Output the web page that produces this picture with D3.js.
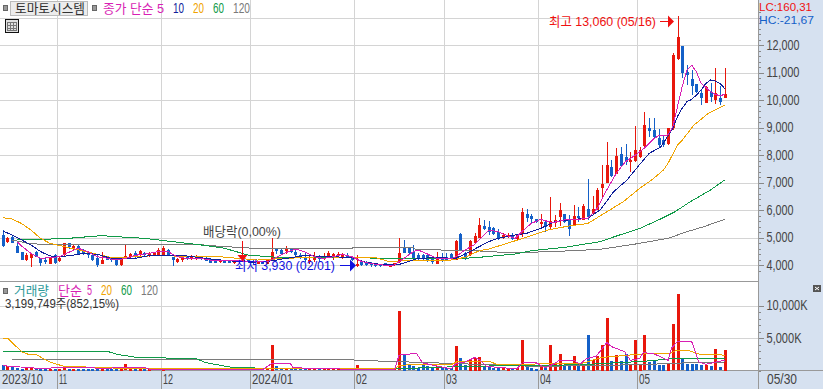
<!DOCTYPE html>
<html><head><meta charset="utf-8">
<script src="https://cdn.jsdelivr.net/npm/d3@7/dist/d3.min.js"></script>
<style>
html,body{margin:0;padding:0;background:#fff;overflow:hidden}
svg{display:block}
text{font-family:"Liberation Sans","Noto Sans CJK KR",sans-serif;font-size:13px;font-weight:400}
.crisp line,.crisp path,.crisp rect{shape-rendering:crispEdges}
.ax text{font-size:14px;fill:#444}
</style></head><body><svg id="c" width="823" height="389"></svg>
<script>
// Price series, one value per trading day (won)
const open=[5090,4810,5030,4700,4460,4180,4240,4490,4240,4180,
4050,4360,4120,4360,4790,4580,4700,4510,4420,4360,
4270,4050,4300,4240,4180,4000,4290,4270,4420,4360,
4420,4340,4360,4360,4390,4550,4300,4100,4170,4300,
4210,4220,4300,4270,4200,4200,4100,4180,4180,4060,
4180,4120,4200,4160,4060,4120,4030,4150,4570,4550,
4490,4570,4490,4360,4300,4100,4180,4300,4210,4300,
4270,4300,4240,4360,4300,3940,4100,4120,4060,4020,
4020,4060,3940,3980,4100,4630,4610,4490,4360,4360,
4360,4240,4060,4300,4300,4390,4180,5130,4450,4360,
4790,4970,5430,5390,5330,5210,5010,5000,5090,4930,
5150,5840,5780,5660,5490,5560,5370,5520,5730,5840,
5660,5450,5790,5640,6040,5880,6000,6800,6970,7550,
7310,8040,7940,7730,7790,7920,8340,8970,8910,8610,
8550,8400,8970,11480,11960,11030,10760,10580,10240,9920,
10300,9980,10060,10090];
const high=[5270,5030,5090,4790,4480,4420,4390,4510,4240,4270,
4270,4410,4300,4810,4810,4750,4720,4580,4510,4380,
4390,4460,4320,4300,4200,4270,4750,4440,4510,4530,
4490,4490,4490,4630,4700,4570,4300,4240,4360,4320,
4360,4360,4330,4290,4220,4220,4200,4200,4200,4200,
4200,4220,4230,4200,4150,4150,4200,4990,4630,4570,
4690,4590,4550,4420,4420,4360,4460,4360,4420,4510,
4420,4460,4450,4420,4320,4360,4150,4150,4120,4040,
4040,4080,4020,4080,4990,4910,4670,4730,4420,4390,
4420,4300,4490,4450,4420,4420,4910,5150,4470,4910,
5150,5700,5640,5600,5400,5310,5150,5180,5180,5100,
6060,6020,5850,5680,5840,5640,6460,5820,6240,5840,
5820,6180,6120,6220,7120,6510,6790,7640,8470,7820,
8240,8290,8390,8120,9060,8300,9550,9330,9360,8950,
8730,8990,11700,13060,11960,11270,11090,10580,10360,10510,
10630,11150,10510,11150];
const low=[4670,4790,4790,4420,4180,4150,3940,4290,3980,4020,
4050,4050,4100,4300,4600,4550,4380,4360,4240,4160,
3940,4050,4170,4100,3970,3960,4270,4220,4240,4340,
4300,4300,4340,4340,4360,4340,3980,4060,4120,4180,
4180,4190,4200,4140,4060,4080,4080,4060,4060,4040,
4060,4100,4090,4050,4040,4040,4020,4140,4390,4390,
4390,4430,4240,4220,4120,4020,4100,4120,4180,4270,
4180,4240,4210,4240,4160,3930,3980,3980,3940,3940,
3940,3960,3930,3960,4090,4420,4360,4220,4180,4200,
4100,4040,4060,4120,4150,4180,4180,4520,4200,4340,
4750,4970,5290,5090,5090,4910,4930,4970,4910,4900,
5010,5580,5520,5530,5390,5210,5270,5370,5420,5520,
5060,5450,5580,5640,5640,5820,6000,6490,6970,7210,
7310,7580,7640,7390,7760,7880,8300,8670,8610,8240,
8300,8360,8900,11450,10790,10550,10180,10270,9820,9900,
9940,9860,9820,10060];
const close=[4700,4970,4810,4460,4180,4360,4390,4300,4060,4100,
4270,4060,4240,4790,4630,4700,4400,4400,4360,4180,
4020,4180,4180,4150,3980,4240,4340,4390,4300,4510,
4340,4390,4420,4550,4630,4360,4200,4220,4240,4220,
4300,4300,4220,4160,4080,4100,4180,4080,4080,4180,
4100,4200,4120,4080,4120,4060,4180,4490,4510,4420,
4610,4450,4390,4270,4180,4180,4300,4220,4300,4420,
4390,4390,4360,4270,4180,4020,4000,4020,3980,3950,
3950,3980,4000,4060,4420,4460,4420,4240,4240,4240,
4180,4100,4300,4180,4180,4200,4870,4550,4270,4870,
5050,5450,5310,5210,5110,4970,5090,5090,4960,5080,
5940,5710,5670,5550,5560,5370,5590,5640,6000,5540,
5310,5780,5730,6150,5760,6020,6730,6950,7640,7240,
7960,7600,7770,7810,8180,8180,9090,8850,8640,8360,
8360,8970,11640,12280,10990,10910,10520,10300,10040,10490,
10120,10240,9920,10230];
const volume=[790,680,530,370,300,320,330,340,260,260,
260,260,300,500,300,300,260,260,250,250,
250,420,250,250,240,250,950,260,260,250,
250,240,200,230,400,200,220,200,200,200,
200,200,180,180,180,180,180,180,180,180,
180,180,180,200,180,180,220,3950,630,220,
220,220,220,200,200,200,220,200,200,230,
200,220,220,200,200,790,220,180,180,180,
180,180,180,200,9100,2420,790,630,420,790,
630,420,630,370,370,370,3790,1900,790,1680,
2000,2100,630,630,320,420,370,420,320,320,
4630,630,420,260,790,370,4000,1050,2470,630,
630,2200,1000,1000,5400,1680,2200,4000,8080,1530,
2370,1400,2600,860,4630,1000,5400,1250,1450,920,
920,1000,7100,11700,1700,1050,1050,950,840,840,
630,3250,520,3200];

// Moving averages: day index + value
const ma5Day=[3,4,6,8,10,12,14,16,18,20,22,24,26,28,31,33,35,37,39,42,45,50,54,56,58,60,62,64,66,68,70,72,74,76,78,81,83,85,87,88,90,92,95,96,98,100,101,103,105,107,108.6,110,112,114,115,116.6,119,122,124,126,128,130,131,132,134,136,138,139,141,142,143,144,145,146,147,148,149,150,151,152,153];
const ma5Val=[4850,4690,4420,4240,4270,4300,4460,4610,4490,4300,4250,4180,4240,4350,4420,4490,4490,4300,4240,4240,4150,4150,4120,4110,4280,4450,4580,4480,4300,4240,4300,4390,4300,4130,4050,3990,4000,4240,4480,4550,4400,4240,4230,4300,4550,4740,4910,5270,5210,5060,4970,5210,5510,5660,5610,5540,5640,5660,5700,6060,6730,7330,7550,7760,7990,8250,8600,8700,8730,9030,9760,10490,11090,11270,11030,10600,10460,10300,10200,10160,10200];
const ma10Day=[0,2,4,6,8,10,12,15,17,20,23,28,31,35,39,43,48,53,57,60,64,70,74,77,81,84,88,92,96,99,101,103,105,108.6,111,114,117,121,124,126.6,129.5,132.3,134,135,137,139.5,142,143,144,145,146,147,148,149,150,151,152,153];
const ma10Val=[5240,5090,4910,4730,4490,4330,4300,4360,4420,4390,4240,4240,4340,4360,4330,4240,4150,4100,4150,4240,4340,4300,4270,4100,4000,4020,4240,4270,4240,4490,4670,4850,4970,5090,5150,5330,5580,5660,5700,6000,6670,7090,7450,7660,8060,8300,8970,9400,9700,9940,10020,10180,10360,10600,10730,10690,10600,10420];
const ma20Day=[0,2,4,6,8,10,13,16,20,23,29,33,39,46,50,54,60,67,74,79,82,87,95,98,101,103,108.6,112,115.5,120,124,127.5,131.5,135,137.5,140,141,143,144,146.5,149.5,153];
const ma20Val=[5720,5670,5510,5270,4970,4790,4670,4550,4390,4270,4300,4360,4300,4300,4240,4180,4240,4300,4280,4270,4120,4180,4180,4280,4520,4580,4880,5070,5270,5420,5510,5880,6300,6790,7090,7450,7700,8360,8540,9090,9510,9820];
const ma60Day=[3,8,14,21,24,30,36,42,47,52,58,75,85,96,101,108.6,112,119,126.6,130,135,139,142.5,145.7,150,153];
const ma60Val=[4910,4930,4970,5070,5030,4970,4850,4730,4610,4360,4280,4260,4240,4220,4280,4400,4520,4640,4850,5050,5330,5640,5940,6300,6730,7090];
const ma120Day=[2,5,8,41,46,53,74,74.5,87,87.5,94,101,107,115.5,126.6,134,141,145,148.5,153];
const ma120Val=[4910,4800,4750,4750,4680,4610,4610,4640,4640,4570,4540,4510,4450,4480,4570,4760,4970,5210,5390,5660];

const vma5Day=[0,2,7,18,22,25,30,31.5,41,55,57,61,61.5,78,83,84,87.7,89,95,96,98,100,101,102.5,106,109,110,113,115,116.6,118,121,122.3,123.7,125.8,128,129,131.8,133,135,135.7,137.8,141,141.7,143,146,147.5,149,153];
const vma5Val=[740,630,370,420,320,470,470,105,105,105,1050,1050,420,105,105,2370,2630,1150,260,1050,1310,2000,1680,630,420,260,1150,1210,420,950,1580,1580,950,1840,2200,4310,3680,2890,1580,1840,2730,2630,1580,3420,4470,4470,1310,950,1580];
const vma20Day=[0,1,4,5.5,7,10,13,18,24,83,84,86,95,96.2,103,105,110,114,123,127,135,141.3,143,145,147.7,153];
const vma20Val=[5000,5000,2890,2470,2470,1300,630,530,370,260,740,890,890,1310,1420,890,890,1050,1150,2000,2520,2630,3150,3150,2520,2370];
const vma60Day=[0,22,24,28.4,41,43,49,55,83,98,107,114,124,136,142,153];
const vma60Val=[3000,3000,2520,2000,1840,1210,420,370,260,630,740,740,950,1420,1840,1840];
const vma120Day=[2,74,74.5,88,101,113,135,146,153];
const vma120Val=[1740,1740,1580,1260,940,630,890,1210,1310];

const priceTicks=[4000,5000,6000,7000,8000,9000,10000,11000,12000,13000];
const priceLabels=[4000,5000,6000,7000,8000,9000,10000,11000,12000];
const volumeTicks=[5000,10000];
const monthDay=[11.5,33.5,52.5,74.5,93.5,113.5,134.5];
const monthLabel=["11","12","2024/01","02","03","04","05"];

const colors={up:"#e8170c",down:"#1460c8",ma5:"#d81fb4",ma10:"#10209a",ma20:"#f0a400",ma60:"#109a48",ma120:"#7a7a7a",grid:"#d4d4d4",axis:"#999",strip:"#d6e1f0"};

const svg=d3.select("#c");
const plotR=758,volBase=370.5;
const x=d3.scaleLinear().domain([0,153]).range([2.7,724.7]);
const y=d3.scaleLinear().domain([4000,13000]).range([265,17.5]);
const yv=d3.scaleLinear().domain([0,10000]).range([volBase,305.5]);
const snap=v=>Math.round(v);

// condense text to the narrow width of the reference's face
const fit=(sel,w)=>sel.attr("textLength",w).attr("lengthAdjust","spacingAndGlyphs");

// background strips
const bg=svg.append("g").attr("class","crisp");
bg.append("rect").attr("x",plotR).attr("y",0).attr("width",65).attr("height",389).attr("fill",colors.strip);
bg.append("rect").attr("x",0).attr("y",371).attr("width",823).attr("height",18).attr("fill",colors.strip);

// grid
const grid=svg.append("g").attr("class","crisp").attr("stroke",colors.grid);
grid.selectAll(".h").data(priceTicks).join("line").attr("x1",0).attr("x2",plotR).attr("y1",d=>snap(y(d))+.5).attr("y2",d=>snap(y(d))+.5);
grid.selectAll(".hv").data(volumeTicks).join("line").attr("class","hv").attr("x1",0).attr("x2",plotR).attr("y1",d=>snap(yv(d))+.5).attr("y2",d=>snap(yv(d))+.5);
grid.selectAll(".v").data(monthDay).join("line").attr("class","v").attr("x1",d=>snap(x(d))+.5).attr("x2",d=>snap(x(d))+.5).attr("y1",0).attr("y2",371);

// panel frames
const fr=svg.append("g").attr("class","crisp").attr("stroke",colors.axis);
fr.append("line").attr("x1",0).attr("x2",plotR).attr("y1",281.5).attr("y2",281.5);
fr.append("line").attr("x1",0).attr("x2",823).attr("y1",370.5).attr("y2",370.5);
fr.selectAll(".m").data(monthDay).join("line").attr("class","m").attr("x1",d=>snap(x(d))+.5).attr("x2",d=>snap(x(d))+.5).attr("y1",371).attr("y2",389);
fr.append("line").attr("x1",758.5).attr("x2",758.5).attr("y1",0).attr("y2",389);

const days=d3.range(open.length);
const isUp=i=>close[i]>=open[i];
const col=i=>isUp(i)?colors.up:colors.down;

// candles
const cg=svg.append("g").attr("class","crisp");
cg.selectAll(".w").data(days).join("line").attr("x1",i=>snap(x(i))+.5).attr("x2",i=>snap(x(i))+.5)
  .attr("y1",i=>snap(y(high[i]))).attr("y2",i=>snap(y(low[i]))).attr("stroke",col);
cg.selectAll(".b").data(days).join("rect").attr("x",i=>snap(x(i))-1).attr("width",3)
  .attr("y",i=>snap(y(Math.max(open[i],close[i]))))
  .attr("height",i=>Math.max(1,snap(Math.abs(y(open[i])-y(close[i])))))
  .attr("fill",col);

// volume bars
svg.append("g").attr("class","crisp").selectAll("rect").data(days).join("rect")
  .attr("x",i=>snap(x(i))-1).attr("width",3)
  .attr("y",i=>snap(yv(volume[i])))
  .attr("height",i=>Math.max(1,snap(volBase-yv(volume[i]))))
  .attr("fill",col);

// moving averages
function maLine(d0,vals,color,scale){
  const gen=d3.line().x((d,i)=>x(d0[i])).y(d=>scale(d));
  svg.append("path").attr("d",gen(vals)).attr("fill","none").attr("stroke",color).attr("stroke-width",1).attr("shape-rendering","crispEdges");
}
maLine(ma120Day,ma120Val,colors.ma120,y);
maLine(ma60Day,ma60Val,colors.ma60,y);
maLine(ma20Day,ma20Val,colors.ma20,y);
maLine(ma10Day,ma10Val,colors.ma10,y);
maLine(ma5Day,ma5Val,colors.ma5,y);
maLine(vma120Day,vma120Val,colors.ma120,yv);
maLine(vma60Day,vma60Val,colors.ma60,yv);
maLine(vma20Day,vma20Val,colors.ma20,yv);
maLine(vma5Day,vma5Val,colors.ma5,yv);

// axes
const fmt=d3.format(",");
const axP=d3.axisRight(y).tickValues(priceLabels).tickSize(5).tickPadding(3).tickFormat(fmt);
const ga=svg.append("g").attr("class","ax crisp").attr("transform","translate(758.5,0)").call(axP);
ga.select(".domain").remove();ga.selectAll("line").attr("stroke","#888");
ga.selectAll("text").each(function(d){fit(d3.select(this),d>=10000?33:27);});
const axPm=d3.axisRight(y).tickValues(d3.range(3800,13400,200)).tickSize(2).tickFormat("");
const gm=svg.append("g").attr("class","crisp").attr("transform","translate(758.5,0)").call(axPm);
gm.select(".domain").remove();gm.selectAll("line").attr("stroke","#888");
const axV=d3.axisRight(yv).tickValues(volumeTicks).tickSize(5).tickPadding(3).tickFormat(d=>fmt(d)+"K");
const gv=svg.append("g").attr("class","ax crisp").attr("transform","translate(758.5,0)").call(axV);
gv.select(".domain").remove();gv.selectAll("line").attr("stroke","#888");
gv.selectAll("text").each(function(d){fit(d3.select(this),d>=10000?41:35);});
const axVm=d3.axisRight(yv).tickValues(d3.range(0,11000,1000)).tickSize(2).tickFormat("");
const gvm=svg.append("g").attr("class","crisp").attr("transform","translate(758.5,0)").call(axVm);
gvm.select(".domain").remove();gvm.selectAll("line").attr("stroke","#888");

// text helper
const T=(t,xx,yy,fill,size,w)=>{
  const s=svg.append("text").attr("x",xx).attr("y",yy).attr("fill",fill||"#444").style("font-size",(size||13)+"px").text(t);
  if(w)fit(s,w);return s;};

// x labels
const monthWidth={"11":8,"12":10,"2024/01":41,"02":11,"03":11,"04":11,"05":11};
const xl=svg.append("g").attr("class","ax");
xl.selectAll("text").data(monthDay).join("text").attr("x",d=>snap(x(d))+2).attr("y",384)
  .text((d,i)=>monthLabel[i]).each(function(d,i){fit(d3.select(this),monthWidth[monthLabel[i]]);});
fit(xl.append("text").attr("x",2).attr("y",384).text("2023/10"),41);
fit(xl.append("text").attr("x",767).attr("y",384).text("05/30"),30);

// header
const sq=(xx,yy)=>svg.append("rect").attr("x",xx+.5).attr("y",yy+.5).attr("width",4).attr("height",5).attr("fill","#999").attr("stroke","#666").attr("shape-rendering","crispEdges");
sq(3,5);sq(92,5);sq(3,288);
svg.append("rect").attr("x",10.5).attr("y",1.5).attr("width",77).attr("height",14).attr("fill","#ececec").attr("stroke","#bbb").attr("shape-rendering","crispEdges");
T("토마토시스템",15,13,"#333",13,70);
T("종가 단순 5",103,13,colors.ma5,13,61);
T("10",173,13,colors.ma10,14,11);
T("20",193,13,colors.ma20,14,11);
T("60",213,13,colors.ma60,14,11);
T("120",233,13,colors.ma120,14,17);
// table icon
const ic=svg.append("g").attr("class","crisp");
ic.append("rect").attr("x",5.5).attr("y",19.5).attr("width",13).attr("height",13).attr("fill","#e0e0e0").attr("stroke","#111");
ic.append("rect").attr("x",7.5).attr("y",22.5).attr("width",9).attr("height",8).attr("fill","none").attr("stroke","#777");
ic.append("path").attr("d","M10.5 22V31M13.5 22V31M7 25.5H17M7 28.5H17").attr("stroke","#777").attr("fill","none");

T("LC:160,31",759,11,"#f01010",11.6,53);
T("HC:-21,67",759,24,"#1460c8",11.6,55);

// volume header
T("거래량",14,295,"#2f9a9a",13,35);
T("단순",58,295,colors.ma5,13,24);
T("5",87,295,colors.ma5,14,5);
T("20",101,295,colors.ma20,14,11);
T("60",121,295,colors.ma60,14,11);
T("120",141,295,colors.ma120,14,17);
T("3,199,749주(852,15%)",5,308,"#333",12,114);

// annotations
T("최고 13,060 (05/16)",549,26,"#f01010",13,107);
const arrow=(x1,yy,x2,c)=>{svg.append("line").attr("x1",x1).attr("x2",x2-5).attr("y1",yy).attr("y2",yy).attr("stroke",c);
 svg.append("path").attr("d",`M${x2-6} ${yy-6}L${x2} ${yy}L${x2-6} ${yy+6}Z`).attr("fill",c);};
arrow(660,21.5,674,"#f01010");
T("최저 3,930 (02/01)",235,270,"#1010e0",13,100);
arrow(340,265.5,356,"#1010e0");
T("배당락(0,00%)",203,236,"#444",13,78);
svg.append("line").attr("x1",242.5).attr("x2",242.5).attr("y1",241).attr("y2",256).attr("stroke","#f01010");
svg.append("path").attr("d","M237.5 255L247.5 255L242.5 261Z").attr("fill","#f01010");

// small close button
svg.append("rect").attr("x",813).attr("y",285).attr("width",8).attr("height",7).attr("fill","#555");
svg.append("path").attr("d","M815 287L819 290M819 287L815 290").attr("stroke","#fff").attr("fill","none");
</script></body></html>
